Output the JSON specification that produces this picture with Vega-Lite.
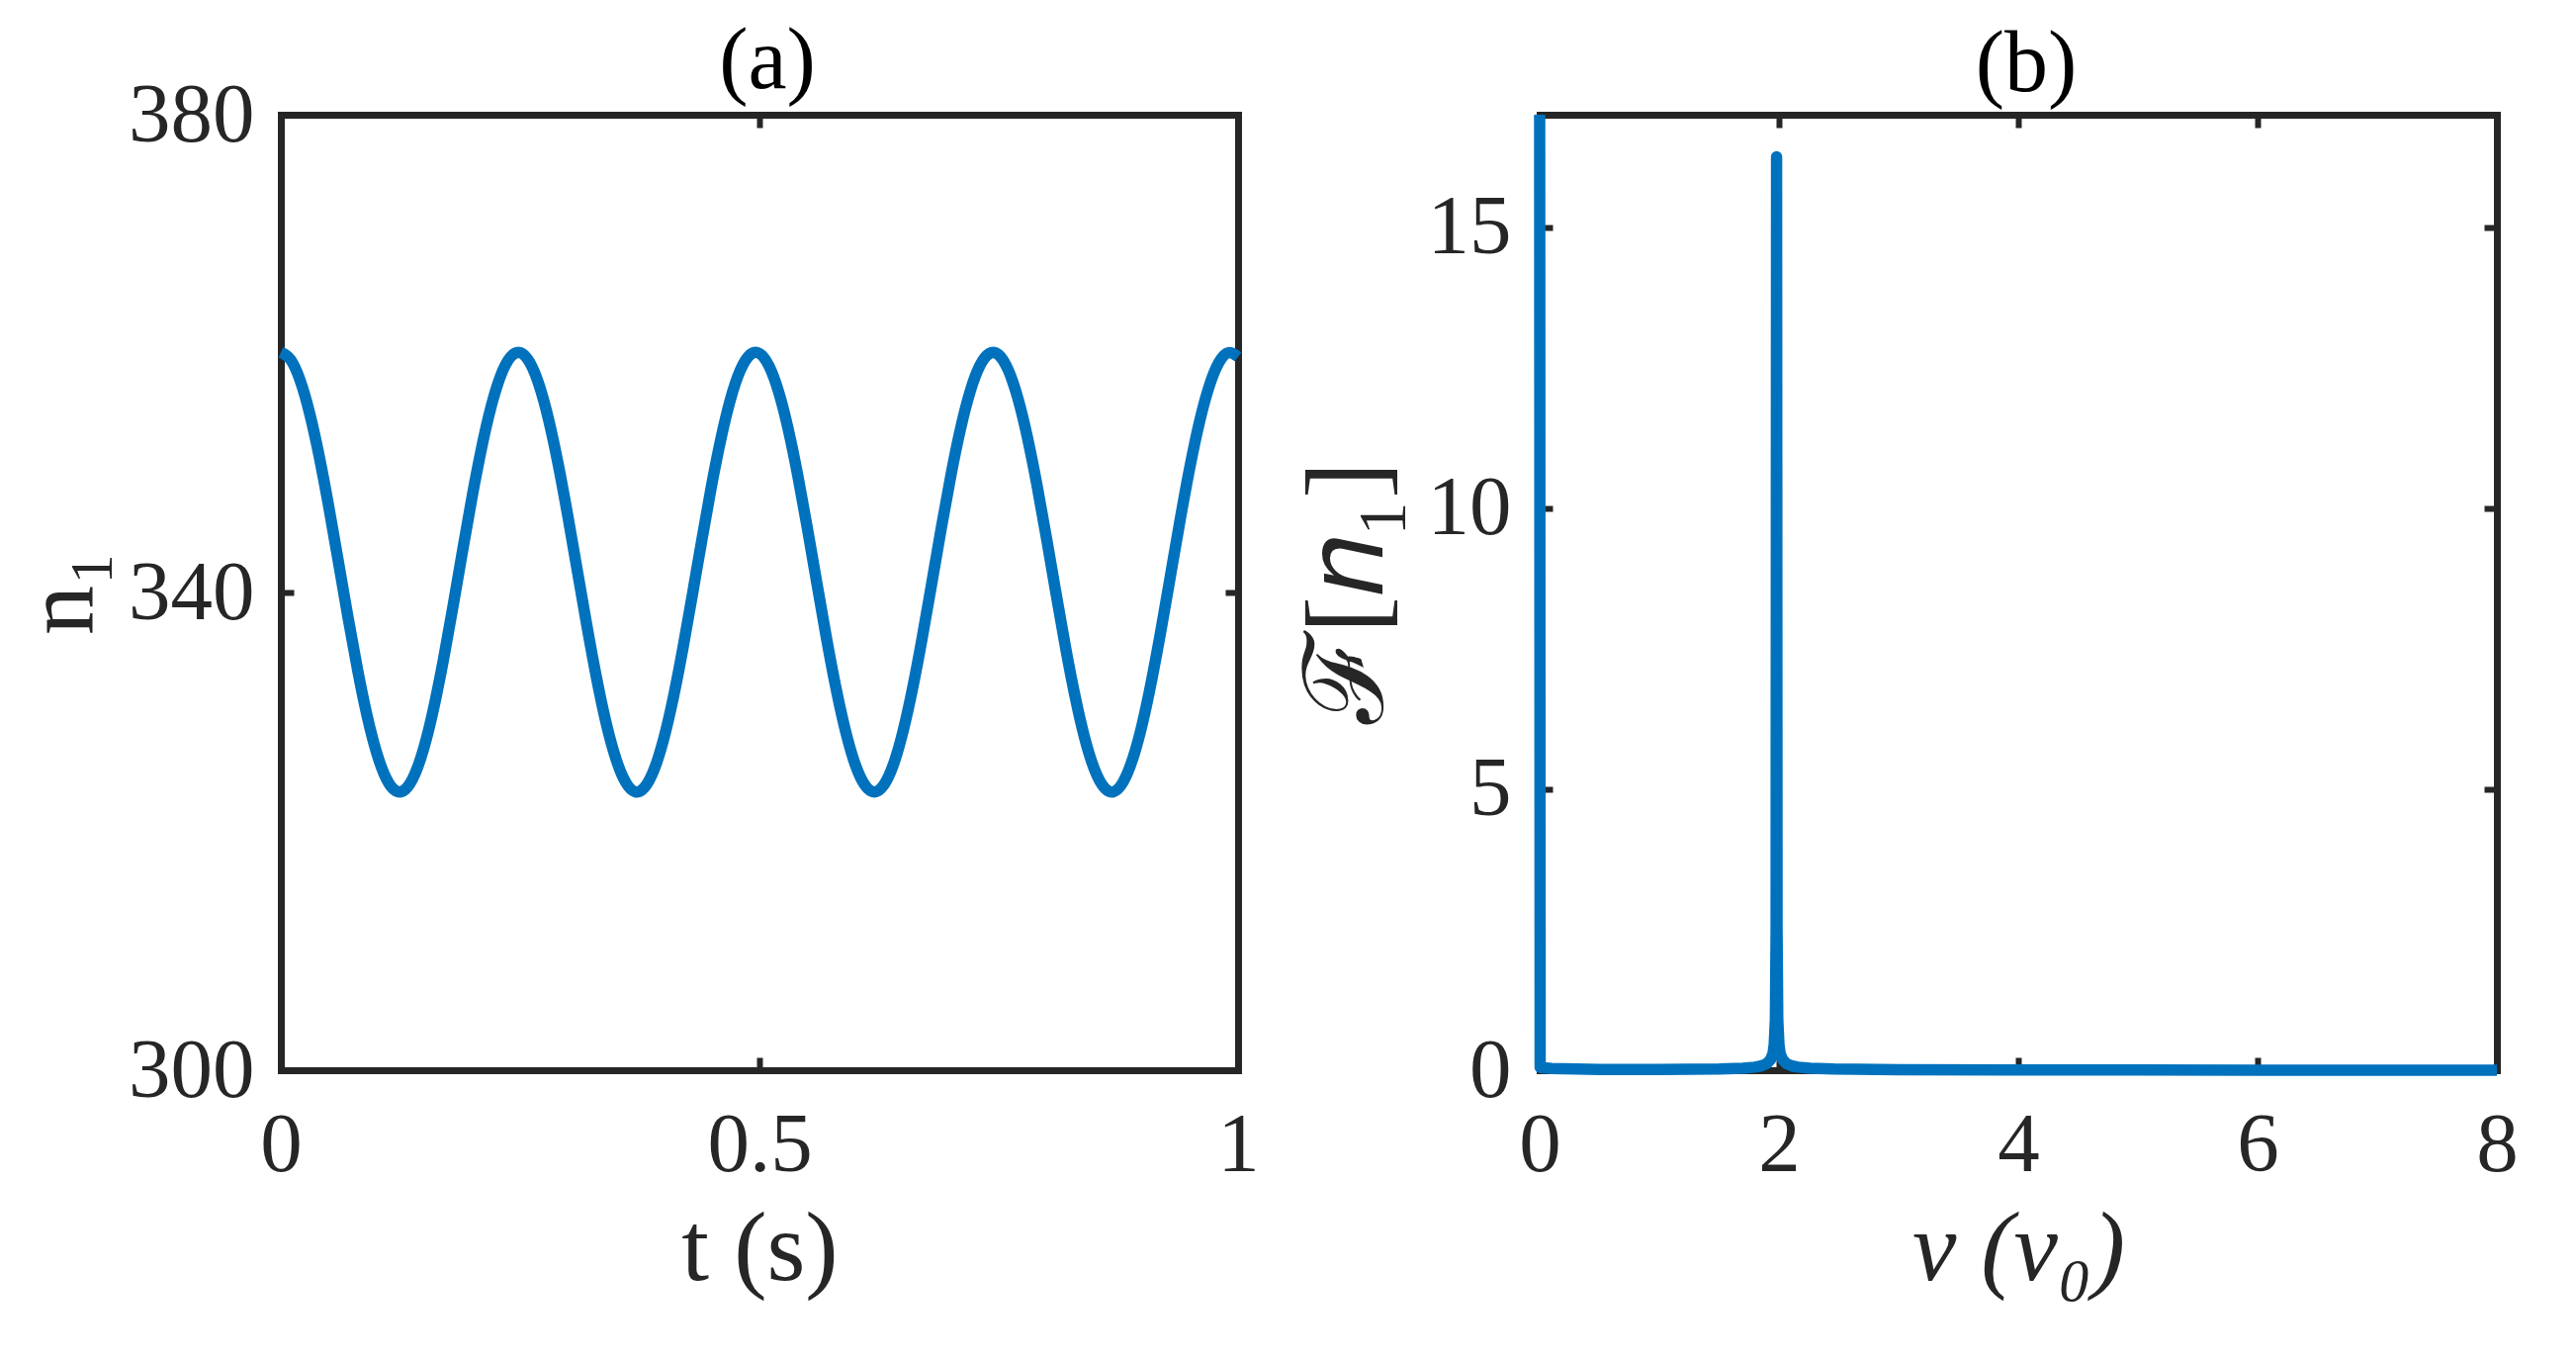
{
  "$schema": "https://vega.github.io/schema/vega-lite/v6.json",
  "background": "white",
  "padding": {"left": 12, "top": 19, "right": 10, "bottom": 10},
  "spacing": 33,
  "config": {
    "view": {"stroke": null},
    "font": "Liberation Serif",
    "axis": {
      "labelFont": "Liberation Serif", "titleFont": "Liberation Serif",
      "labelFontSize": 85, "titleFontSize": 100, "titleFontWeight": "normal",
      "labelColor": "#262626", "titleColor": "#262626", "labelLimit": 500,
      "domainColor": "#262626", "domainWidth": 7, "domainCap": "square",
      "tickColor": "#262626", "tickWidth": 6, "tickSize": -13,
      "grid": false, "labelFlush": false, "labelOverlap": false
    },
    "title": {"font": "Liberation Serif", "fontSize": 88, "fontWeight": "normal", "color": "#000000", "frame": "group"}
  },
  "hconcat": [
    {
      "width": 968, "height": 966,
      "title": {"text": "(a)", "offset": -33, "dx": 8},
      "data": {"values": [
        {"t":0,"n":360.1},{"t":0.01,"n":359.51},{"t":0.02,"n":357.79},{"t":0.03,"n":355.03},{"t":0.04,"n":351.43},
        {"t":0.05,"n":347.21},{"t":0.06,"n":342.63},{"t":0.07,"n":338.0},{"t":0.08,"n":333.6},{"t":0.09,"n":329.71},
        {"t":0.1,"n":326.6},{"t":0.11,"n":324.44},{"t":0.12,"n":323.39},{"t":0.13,"n":323.51},{"t":0.14,"n":324.79},
        {"t":0.15,"n":327.15},{"t":0.16,"n":330.44},{"t":0.17,"n":334.44},{"t":0.18,"n":338.91},{"t":0.19,"n":343.56},
        {"t":0.2,"n":348.09},{"t":0.21,"n":352.21},{"t":0.22,"n":355.66},{"t":0.23,"n":358.22},{"t":0.24,"n":359.72},
        {"t":0.25,"n":360.08},{"t":0.26,"n":359.26},{"t":0.27,"n":357.32},{"t":0.28,"n":354.38},{"t":0.29,"n":350.63},
        {"t":0.3,"n":346.31},{"t":0.31,"n":341.7},{"t":0.32,"n":337.09},{"t":0.33,"n":332.77},{"t":0.34,"n":329.02},
        {"t":0.35,"n":326.09},{"t":0.36,"n":324.14},{"t":0.37,"n":323.32},{"t":0.38,"n":323.68},{"t":0.39,"n":325.18},
        {"t":0.4,"n":327.74},{"t":0.41,"n":331.19},{"t":0.42,"n":335.31},{"t":0.43,"n":339.84},{"t":0.44,"n":344.48},
        {"t":0.45,"n":348.96},{"t":0.46,"n":352.96},{"t":0.47,"n":356.25},{"t":0.48,"n":358.61},{"t":0.49,"n":359.89},
        {"t":0.5,"n":360.01},{"t":0.51,"n":358.96},{"t":0.52,"n":356.8},{"t":0.53,"n":353.69},{"t":0.54,"n":349.81},
        {"t":0.55,"n":345.41},{"t":0.56,"n":340.77},{"t":0.57,"n":336.19},{"t":0.58,"n":331.97},{"t":0.59,"n":328.37},
        {"t":0.6,"n":325.61},{"t":0.61,"n":323.89},{"t":0.62,"n":323.3},{"t":0.63,"n":323.89},{"t":0.64,"n":325.61},
        {"t":0.65,"n":328.37},{"t":0.66,"n":331.97},{"t":0.67,"n":336.19},{"t":0.68,"n":340.77},{"t":0.69,"n":345.4},
        {"t":0.7,"n":349.8},{"t":0.71,"n":353.68},{"t":0.72,"n":356.8},{"t":0.73,"n":358.95},{"t":0.74,"n":360.0},
        {"t":0.75,"n":359.89},{"t":0.76,"n":358.61},{"t":0.77,"n":356.25},{"t":0.78,"n":352.96},{"t":0.79,"n":348.96},
        {"t":0.8,"n":344.49},{"t":0.81,"n":339.84},{"t":0.82,"n":335.31},{"t":0.83,"n":331.2},{"t":0.84,"n":327.74},
        {"t":0.85,"n":325.18},{"t":0.86,"n":323.68},{"t":0.87,"n":323.32},{"t":0.88,"n":324.14},{"t":0.89,"n":326.08},
        {"t":0.9,"n":329.01},{"t":0.91,"n":332.77},{"t":0.92,"n":337.08},{"t":0.93,"n":341.7},{"t":0.94,"n":346.31},
        {"t":0.95,"n":350.63},{"t":0.96,"n":354.38},{"t":0.97,"n":357.31},{"t":0.98,"n":359.26},{"t":0.99,"n":360.08},
        {"t":1.0,"n":359.73}
      ]},
      "layer": [
        {
          "mark": {"type": "line", "opacity": 0},
          "encoding": {
            "x": {"field": "t", "type": "quantitative", "scale": {"domain": [0, 1]},
                  "axis": {"orient": "top", "labels": false, "title": null, "values": [0, 0.5, 1]}},
            "y": {"field": "n", "type": "quantitative", "scale": {"domain": [300, 380]},
                  "axis": {"orient": "right", "labels": false, "title": null, "values": [300, 340, 380]}}
          }
        },
        {
          "mark": {"type": "line", "color": "#0072BD", "strokeWidth": 11.5, "interpolate": "natural", "strokeCap": "butt", "strokeJoin": "round"},
          "encoding": {
            "x": {"field": "t", "type": "quantitative", "scale": {"domain": [0, 1]},
                  "axis": {"orient": "bottom", "values": [0, 0.5, 1], "format": ".1~f", "title": "t (s)", "labelPadding": 47, "titlePadding": 14}},
            "y": {"field": "n", "type": "quantitative", "scale": {"domain": [300, 380]},
                  "axis": {"orient": "left", "values": [300, 340, 380], "format": "d", "title": "n₁", "labelPadding": 40, "titlePadding": 16}}
          }
        }
      ],
      "resolve": {"axis": {"x": "independent", "y": "independent"}}
    },
    {
      "width": 968, "height": 966,
      "title": {"text": "(b)", "offset": 0, "dx": 8},
      "data": {"values": [
        {"nu":0,"F":17},{"nu":0.004,"F":0.05},{"nu":0.1,"F":0.03},{"nu":0.5,"F":0.015},{"nu":1.0,"F":0.012},
        {"nu":1.5,"F":0.02},{"nu":1.7,"F":0.035},{"nu":1.8,"F":0.055},{"nu":1.85,"F":0.075},{"nu":1.9,"F":0.12},
        {"nu":1.93,"F":0.19},{"nu":1.95,"F":0.3},{"nu":1.96,"F":0.45},{"nu":1.97,"F":0.9},{"nu":1.976,"F":2.5},
        {"nu":1.98,"F":16.25},{"nu":1.984,"F":2.5},{"nu":1.99,"F":0.9},{"nu":2.0,"F":0.45},{"nu":2.01,"F":0.3},
        {"nu":2.03,"F":0.19},{"nu":2.06,"F":0.12},{"nu":2.11,"F":0.075},{"nu":2.16,"F":0.055},{"nu":2.26,"F":0.035},
        {"nu":2.46,"F":0.02},{"nu":3.0,"F":0.01},{"nu":4.0,"F":0.006},{"nu":5.0,"F":0.004},{"nu":6.0,"F":0.002},
        {"nu":7.0,"F":0.0},{"nu":8.0,"F":0.0}
      ]},
      "layer": [
        {
          "mark": {"type": "line", "opacity": 0},
          "encoding": {
            "x": {"field": "nu", "type": "quantitative", "scale": {"domain": [0, 8]},
                  "axis": {"orient": "top", "labels": false, "title": null, "values": [0, 2, 4, 6, 8]}},
            "y": {"field": "F", "type": "quantitative", "scale": {"domain": [0, 17]},
                  "axis": {"orient": "right", "labels": false, "title": null, "values": [0, 5, 10, 15]}}
          }
        },
        {
          "mark": {"type": "line", "color": "#0072BD", "strokeWidth": 11.5, "strokeCap": "butt", "strokeJoin": "round"},
          "encoding": {
            "x": {"field": "nu", "type": "quantitative", "scale": {"domain": [0, 8]},
                  "axis": {"orient": "bottom", "values": [0, 2, 4, 6, 8], "format": "d", "title": "ν (ν₀)", "titleFontStyle": "italic", "labelPadding": 47, "titlePadding": 14}},
            "y": {"field": "F", "type": "quantitative", "scale": {"domain": [0, 17]},
                  "axis": {"orient": "left", "values": [0, 5, 10, 15], "format": "d", "title": "ℱ[𝑛₁]", "titleFontSize": 112, "labelPadding": 42, "titlePadding": 22}}
          }
        }
      ],
      "resolve": {"axis": {"x": "independent", "y": "independent"}}
    }
  ]
}
